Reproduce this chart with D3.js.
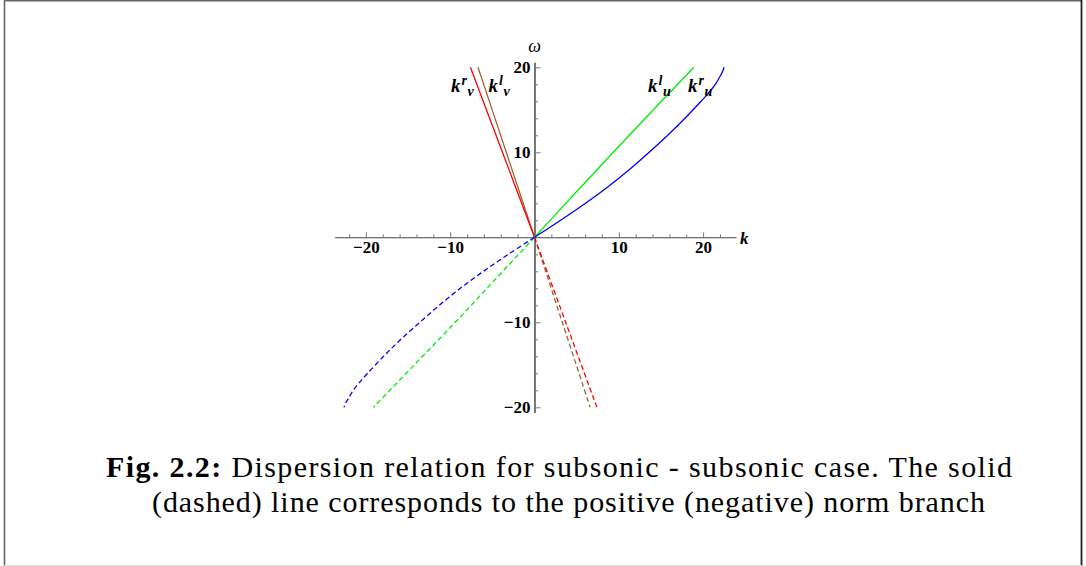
<!DOCTYPE html>
<html>
<head>
<meta charset="utf-8">
<script src="https://cdn.jsdelivr.net/npm/d3@7"></script>
<style>
  html, body { margin: 0; padding: 0; background: #fff; }
  svg { display: block; }
  svg text { font-family: "Liberation Serif", "Times New Roman", "DejaVu Serif", serif; }
</style>
</head>
<body>
<svg id="fig" width="1086" height="566"></svg>
<script>
// Dispersion branches: wavenumber k for each frequency omega.
// Positive-norm branches (solid).
const omegaBlue   = [0, 2, 4, 6, 8, 10, 12, 14, 16, 17, 18, 19, 19.5, 20];
const kBlue       = [0, 3.1, 6.05, 8.8, 11.3, 13.6, 15.8, 17.85, 19.75, 20.65, 21.45, 22.05, 22.3, 22.5];
const omegaGreen  = [0, 5, 10, 15, 20];
const kGreen      = [0, 4.65, 9.35, 14.1, 18.9];
const omegaRed    = [0, 10, 20];
const kRed        = [0, -3.8, -7.6];
const omegaBrown  = [0, 10, 20];
const kBrown      = [0, -3.35, -6.7];

// Negative-norm branches (dashed).
const omegaBlueNeg  = [0, -2, -4, -6, -8, -10, -12, -14, -16, -17, -18, -19, -19.5, -20];
const kBlueNeg      = [0, -3.1, -6.05, -8.8, -11.3, -13.6, -15.85, -17.9, -19.8, -20.7, -21.5, -22.1, -22.4, -22.6];
const omegaGreenNeg = [0, -5, -10, -15, -20];
const kGreenNeg     = [0, -4.7, -9.4, -14.25, -19.1];
const omegaRedNeg   = [0, -10, -20];
const kRedNeg       = [0, 3.7, 7.4];
const omegaBrownNeg = [0, -10, -20];
const kBrownNeg     = [0, 3.3, 6.6];

// Axis ticks
const majorTicks = [-20, -10, 10, 20];
const minorTicksX = [-22, -18, -16, -14, -12, -8, -6, -4, -2, 2, 4, 6, 8, 12, 14, 16, 18, 22];
const minorTicksY = [-18, -16, -14, -12, -8, -6, -4, -2, 2, 4, 6, 8, 12, 14, 16, 18];

const svg = d3.select("#fig");

// Page frame
svg.append("line").attr("x1", 4.5).attr("y1", 0).attr("x2", 4.5).attr("y2", 566)
  .attr("stroke", "#666").attr("stroke-width", 1.6);
svg.append("line").attr("x1", 4).attr("y1", 0.8).attr("x2", 1082).attr("y2", 0.8)
  .attr("stroke", "#666").attr("stroke-width", 1.6);
svg.append("line").attr("x1", 1081.5).attr("y1", 0).attr("x2", 1081.5).attr("y2", 566)
  .attr("stroke", "#222").attr("stroke-width", 1.8);
svg.append("line").attr("x1", 4).attr("y1", 565.5).attr("x2", 1082).attr("y2", 565.5)
  .attr("stroke", "#ddd").attr("stroke-width", 1);

const x = d3.scaleLinear().domain([-23.7, 23.9]).range([334.7, 736]);
const y = d3.scaleLinear().domain([-20.6, 20.6]).range([412.4, 62.2]);

const plot = svg.append("g");

// x axis: ticks point up, labels below
const fmt = d => (d < 0 ? "\u2212" + Math.abs(d) : String(d));
const xAxisG = plot.append("g").attr("transform", `translate(0,${y(0)})`);
xAxisG.call(d3.axisBottom(x).tickValues(majorTicks).tickSizeInner(-5).tickSizeOuter(0).tickPadding(4).tickFormat(fmt));
xAxisG.append("g").call(d3.axisBottom(x).tickValues(minorTicksX).tickSizeInner(-3).tickSizeOuter(0).tickFormat(""))
  .select(".domain").remove();

// y axis: ticks point right, labels left
const yAxisG = plot.append("g").attr("transform", `translate(${x(0)},0)`);
yAxisG.call(d3.axisLeft(y).tickValues(majorTicks).tickSizeInner(-6).tickSizeOuter(0).tickPadding(4).tickFormat(fmt));
yAxisG.append("g").call(d3.axisLeft(y).tickValues(minorTicksY).tickSizeInner(-3.5).tickSizeOuter(0).tickFormat(""))
  .select(".domain").remove();

plot.selectAll(".tick line").attr("stroke", "#777").attr("stroke-width", 1);
xAxisG.select(".domain").attr("stroke", "#444").attr("stroke-width", 1.1);
yAxisG.select(".domain").attr("stroke", "#777").attr("stroke-width", 2);
plot.selectAll(".tick text")
  .attr("font-family", null)
  .style("font-weight", "bold").style("font-size", "17px").attr("fill", "#000");

// axis names
plot.append("text").attr("x", x(0)).attr("y", 52).attr("text-anchor", "middle")
  .style("font-style", "italic").style("font-size", "18px").text("ω");
plot.append("text").attr("x", 740).attr("y", 244)
  .style("font-style", "italic").style("font-weight", "bold").style("font-size", "17px").text("k");

// curves
const line = d3.line().x(d => x(d[0])).y(d => y(d[1])).curve(d3.curveCatmullRom.alpha(0.5));
const zip = (ks, ws) => ks.map((k, i) => [k, ws[i]]);

const branches = [
  { k: kBrown, w: omegaBrown, color: "#996633", dash: null },
  { k: kRed, w: omegaRed, color: "#ff0000", dash: null },
  { k: kGreen, w: omegaGreen, color: "#00ee00", dash: null },
  { k: kBlue, w: omegaBlue, color: "#0000ff", dash: null },
  { k: kBrownNeg, w: omegaBrownNeg, color: "#996633", dash: "5,3" },
  { k: kRedNeg, w: omegaRedNeg, color: "#ff0000", dash: "5,3" },
  { k: kGreenNeg, w: omegaGreenNeg, color: "#00ee00", dash: "5,3" },
  { k: kBlueNeg, w: omegaBlueNeg, color: "#0000ff", dash: "5,3" }
];

plot.append("g").selectAll("path").data(branches).join("path")
  .attr("d", b => line(zip(b.k, b.w)))
  .attr("fill", "none")
  .attr("stroke", b => b.color)
  .attr("stroke-width", 1.3)
  .attr("stroke-dasharray", b => b.dash);

// branch labels k^sup_sub
const branchLabels = [
  { x: 451, sup: "r", sub: "v" },
  { x: 488.5, sup: "l", sub: "v" },
  { x: 648, sup: "l", sub: "u" },
  { x: 688, sup: "r", sub: "u" }
];
branchLabels.forEach(l => {
  const t = plot.append("text").attr("x", l.x).attr("y", 92)
    .style("font-style", "italic").style("font-weight", "bold").style("font-size", "19px");
  t.append("tspan").text("k");
  t.append("tspan").style("font-size", "14px").attr("dx", 1).attr("dy", -7).text(l.sup);
  t.append("tspan").style("font-size", "14px").attr("dx", 0.5).attr("dy", 10.5).text(l.sub);
});

// caption
const cap = svg.append("g").attr("fill", "#000");
const c1 = cap.append("text").attr("x", 106).attr("y", 477).style("font-size", "30px")
  .attr("textLength", 906).attr("lengthAdjust", "spacing");
c1.append("tspan").style("font-weight", "bold").text("Fig.  2.2:");
c1.append("tspan").text(" Dispersion relation for subsonic - subsonic case. The solid");
cap.append("text").attr("x", 152).attr("y", 512).style("font-size", "30px")
  .attr("textLength", 833).attr("lengthAdjust", "spacing")
  .text("(dashed) line corresponds to the positive (negative) norm branch");
</script>
</body>
</html>
